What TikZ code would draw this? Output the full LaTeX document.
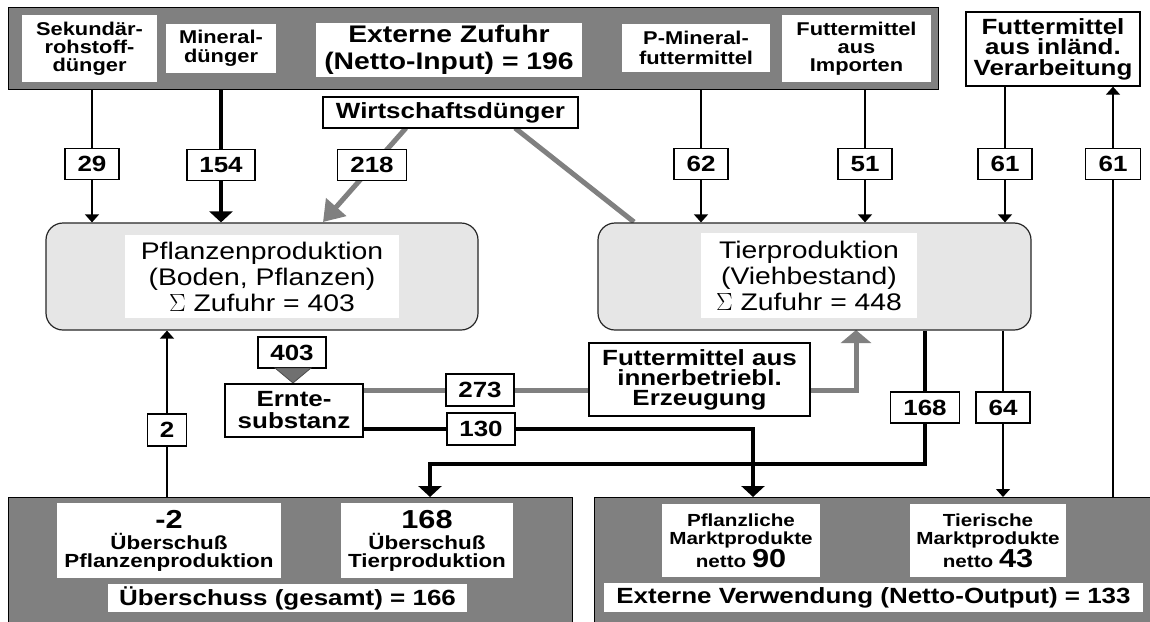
\documentclass[tikz,border=0pt]{standalone}
\usepackage{fontspec}
\setmainfont{Liberation Sans}[FakeStretch=1.18]
\usetikzlibrary{arrows.meta,calc}
\pgfdeclarelayer{bg}
\pgfsetlayers{bg,main}
\definecolor{pgray}{HTML}{808080}
\definecolor{plight}{HTML}{E6E6E6}
\definecolor{tgray}{HTML}{707070}
\begin{document}
\begin{tikzpicture}[x=1pt,y=-1pt,
  panel/.style={draw=black, fill=pgray, line width=1.2pt, inner sep=0pt},
  wbox/.style={fill=white, inner sep=0pt, align=center, font=\bfseries\fontsize{18.5}{18}\selectfont},
  bbox/.style={wbox, draw=black, line width=1.3pt},
  lbl/.style={bbox, font=\bfseries\fontsize{22}{22}\selectfont, minimum height=31pt},
  proc/.style={draw=black!85, fill=plight, rounded corners=17pt, line width=1.2pt, inner sep=0pt},
  ptext/.style={fill=white, inner sep=0pt, align=center, font=\fontsize{24}{26}\selectfont},
  ln/.style={line width=1.3pt},
  lnarr/.style={ln, -{Triangle[length=8pt,width=14pt]}},
  thk/.style={line width=4pt},
  thkarr/.style={thk, -{Triangle[length=11pt,width=23pt]}},
  grl/.style={line width=5pt, draw=pgray},
]
\clip (0,0) rectangle (1150,621);

% top panel
\node[panel, anchor=north west, minimum width=930pt, minimum height=82pt] (top) at (8,7) {};
\node[wbox, minimum width=135pt, minimum height=67pt] (sek) at (89.5,48.5) {Sekundär-\\rohstoff-\\dünger};
\node[wbox, minimum width=110pt, minimum height=49pt, font=\bfseries\fontsize{18.5}{19}\selectfont] (min) at (221,48.5) {Mineral-\\dünger};
\node[wbox, minimum width=266pt, minimum height=54pt, font=\bfseries\fontsize{24}{27}\selectfont] (ext) at (449,50) {Externe Zufuhr\\(Netto-Input) = 196};
\node[wbox, minimum width=148pt, minimum height=48pt, font=\bfseries\fontsize{18.5}{20}\selectfont] (pmin) at (696,48) {P-Mineral-\\futtermittel};
\node[wbox, minimum width=149pt, minimum height=67pt] (imp) at (856.5,48.5) {Futtermittel\\aus\\Importen};
\node[bbox, minimum width=174pt, minimum height=74pt, font=\bfseries\fontsize{22}{20.5}\selectfont] (inl) at (1053,49) {Futtermittel\\aus inländ.\\Verarbeitung};
\node[bbox, minimum width=255pt, minimum height=31pt, font=\bfseries\fontsize{22}{22}\selectfont] (wd) at (450.5,112.5) {Wirtschaftsdünger};

% labels upper
\node[lbl, minimum width=54pt] (l29) at (92,164) {29};
\node[lbl, minimum width=68pt] (l154) at (221,165) {154};
\node[lbl, minimum width=69pt] (l218) at (372,165) {218};
\node[lbl, minimum width=54pt] (l62) at (701,164) {62};
\node[lbl, minimum width=54pt] (l51) at (865,164) {51};
\node[lbl, minimum width=54pt] (l61a) at (1005,164) {61};
\node[lbl, minimum width=55pt] (l61b) at (1113,164) {61};

% process boxes
\node[proc, minimum width=432pt, minimum height=107pt] (pfl) at (262,276.5) {};
\node[ptext, minimum width=274pt, minimum height=83pt] (pflt) at (262,276.5) {Pflanzenproduktion\\(Boden, Pflanzen)\\$\Sigma$ Zufuhr = 403};
\node[proc, minimum width=433pt, minimum height=107pt] (tier) at (814.5,276.5) {};
\node[ptext, minimum width=216pt, minimum height=85pt] (tiert) at (809,275.5) {Tierproduktion\\(Viehbestand)\\$\Sigma$ Zufuhr = 448};

% middle
\node[lbl, minimum width=68pt] (l403) at (292,352.5) {403};
\filldraw[fill=tgray, draw=black!70, line width=0.8pt] (275,368) -- (311,368) -- (293,383) -- cycle;
\node[bbox, minimum width=138pt, minimum height=53pt, font=\bfseries\fontsize{22}{22}\selectfont] (ernte) at (294,410.5) {Ernte-\\substanz};
\node[lbl, minimum width=39pt, minimum height=32pt] (l2) at (167,430) {2};
\node[lbl, minimum width=68pt, minimum height=32pt] (l273) at (480,390) {273};
\node[lbl, minimum width=68pt, minimum height=32pt] (l130) at (481,429) {130};
\node[bbox, minimum width=221pt, minimum height=73pt, font=\bfseries\fontsize{22}{20}\selectfont] (inner) at (699.5,379.5) {Futtermittel aus\\innerbetriebl.\\Erzeugung};
\node[lbl, minimum width=69pt] (l168) at (925,407.5) {168};
\node[lbl, minimum width=54pt] (l64) at (1003,407.5) {64};

% bottom panels
\node[panel, anchor=north west, minimum width=564pt, minimum height=133pt] (bl) at (8,497) {};
\node[panel, anchor=north west, minimum width=570pt, minimum height=133pt] (br) at (594,497) {};
\node[wbox, minimum width=224pt, minimum height=75pt, font=\bfseries\fontsize{19}{17.5}\selectfont] (sp) at (169,540.5) {{\fontsize{26}{24}\selectfont -2}\\[4pt]Überschuß\\Pflanzenproduktion};
\node[wbox, minimum width=172pt, minimum height=75pt, font=\bfseries\fontsize{19}{17.5}\selectfont] (st) at (427,540.5) {{\fontsize{26}{24}\selectfont 168}\\[4pt]Überschuß\\Tierproduktion};
\node[wbox, minimum width=359pt, minimum height=28pt, font=\bfseries\fontsize{22}{20}\selectfont] (ug) at (287.5,598) {Überschuss (gesamt) = 166};
\node[wbox, minimum width=158pt, minimum height=73pt, font=\bfseries\fontsize{17.5}{18.5}\selectfont] (pm) at (741,540.5) {Pflanzliche\\Marktprodukte\\netto {\fontsize{26}{20}\selectfont 90}};
\node[wbox, minimum width=156pt, minimum height=73pt, font=\bfseries\fontsize{17.5}{18.5}\selectfont] (tm) at (988,540.5) {Tierische\\Marktprodukte\\netto {\fontsize{26}{20}\selectfont 43}};
\node[wbox, minimum width=539pt, minimum height=29pt, font=\bfseries\fontsize{22}{20}\selectfont] (ev) at (873.5,597.5) {Externe Verwendung (Netto-Output) = 133};

% connectors
\begin{pgfonlayer}{bg}
\fill[white] (0,0) rectangle (1150,621);
\draw[lnarr] (l29 |- top.south) -- (l29 |- pfl.north);
\draw[thkarr] (l154 |- top.south) -- (l154 |- pfl.north);
\draw[lnarr] (l62 |- top.south) -- (l62 |- tier.north);
\draw[lnarr] (l51 |- top.south) -- (l51 |- tier.north);
\draw[lnarr] (l61a |- inl.south) -- (l61a |- tier.north);
\draw[lnarr] (l61b |- br.north) -- (l61b |- inl.south);
\coordinate (w1) at (406,128);
\coordinate (w1t) at (323,222);
\draw[grl, -{Triangle[length=20pt,width=26pt]}] (w1) -- (w1t);
\coordinate (w2) at (515,128);
\coordinate (w2t) at (634,222);
\draw[grl] (w2) -- (w2t);
\draw[lnarr] (l2 |- bl.north) -- (l2 |- pfl.south);
\draw[grl] (ernte.east |- l273) -- (inner.west |- l273);
\coordinate (gup) at (856,330);
\draw[grl, -{Triangle[length=13pt,width=30pt]}] (inner.east |- l273) -| (gup);
\coordinate (c130) at (753,497);
\draw[thkarr] (ernte.east |- l130) -| (c130);
\coordinate (h168) at (925,464);
\coordinate (a168) at (430,497);
\draw[thkarr] (l168 |- tier.south) |- (a168 |- h168) -- (a168);
\draw[lnarr] (l64 |- tier.south) -- (l64 |- br.north);
\end{pgfonlayer}
\end{tikzpicture}
\end{document}
